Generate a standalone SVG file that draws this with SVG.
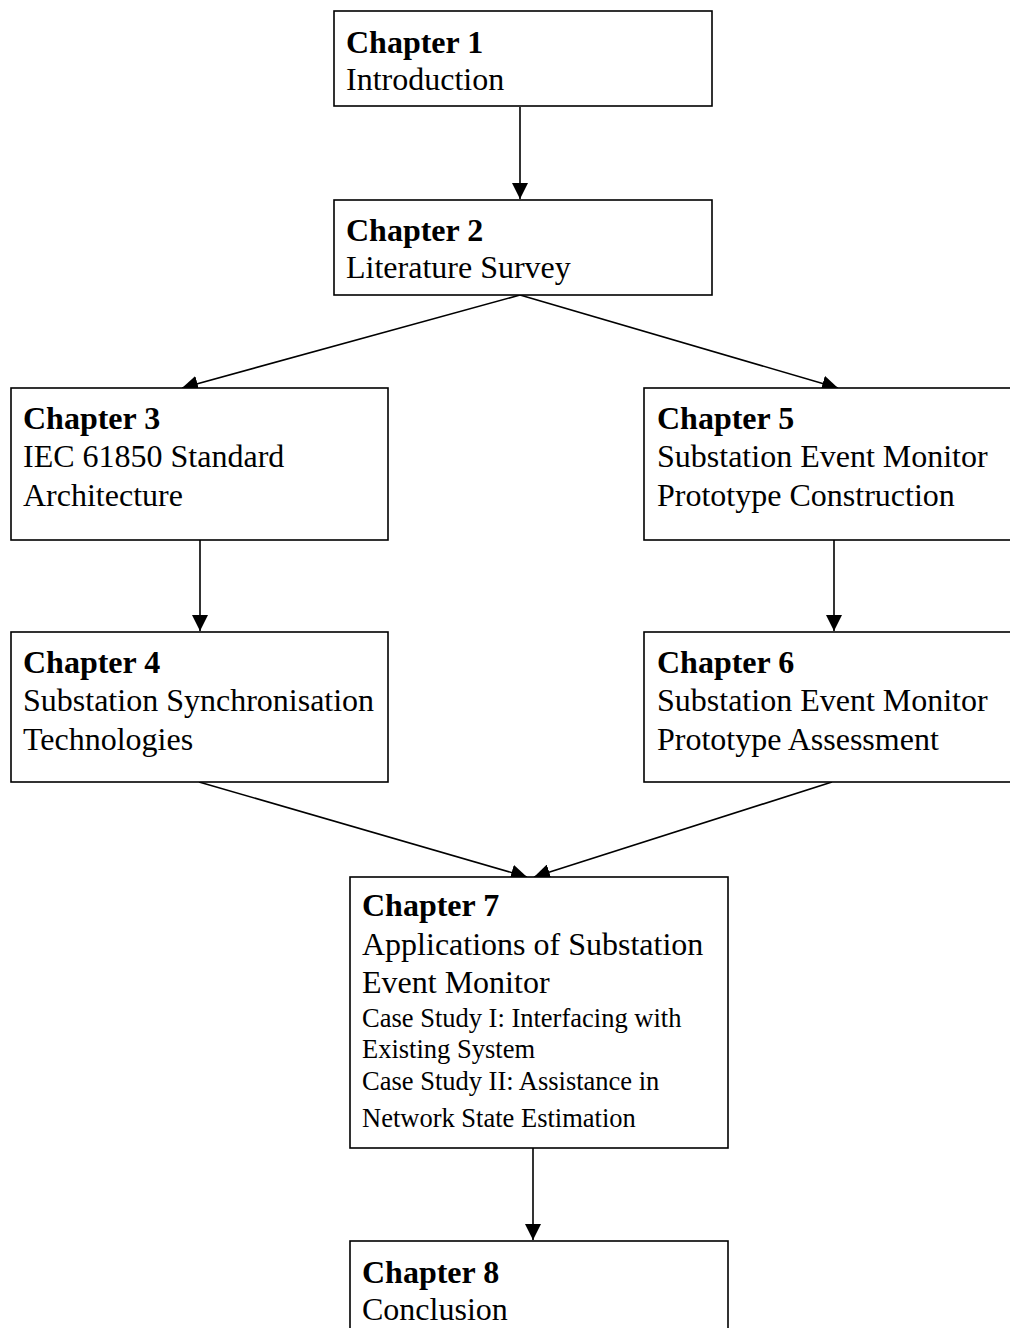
<svg xmlns="http://www.w3.org/2000/svg" width="1010" height="1328" viewBox="0 0 1010 1328">
  <style>
    .box { fill: #ffffff; stroke: #000000; stroke-width: 1.6; }
    .t { font-family: "Liberation Serif", "Times New Roman", serif; font-size: 32px; fill: #000000; }
    .h { font-weight: bold; }
    .s { font-size: 26.5px; }
    .edge { fill: none; stroke: #000000; stroke-width: 1.6; marker-end: url(#arrow); }
  </style>
  <defs>
    <marker id="arrow" markerUnits="userSpaceOnUse" markerWidth="17" markerHeight="16" refX="16" refY="8" orient="auto">
      <path d="M0,0 L16,8 L0,16 Z" fill="#000000"/>
    </marker>
  </defs>
  <rect width="1010" height="1328" fill="#ffffff"/>

  <g id="connectors">
    <line class="edge" x1="520" y1="107" x2="520" y2="199"/>
    <line class="edge" x1="520" y1="295" x2="182" y2="388"/>
    <line class="edge" x1="520" y1="295" x2="838" y2="388"/>
    <line class="edge" x1="200" y1="540" x2="200" y2="631"/>
    <line class="edge" x1="834" y1="540" x2="834" y2="631"/>
    <line class="edge" x1="199" y1="782" x2="527" y2="877"/>
    <line class="edge" x1="832" y1="782" x2="534" y2="877"/>
    <line class="edge" x1="533" y1="1148" x2="533" y2="1240"/>
  </g>

  <g id="chapter1">
    <rect class="box" x="334" y="11" width="378" height="95"/>
    <text class="t h" x="346" y="53">Chapter 1</text>
    <text class="t" x="346" y="90">Introduction</text>
  </g>

  <g id="chapter2">
    <rect class="box" x="334" y="200" width="378" height="95"/>
    <text class="t h" x="346" y="241">Chapter 2</text>
    <text class="t" x="346" y="278">Literature Survey</text>
  </g>

  <g id="chapter3">
    <rect class="box" x="11" y="388" width="377" height="152"/>
    <text class="t h" x="23" y="429">Chapter 3</text>
    <text class="t" x="23" y="467">IEC 61850 Standard</text>
    <text class="t" x="23" y="506">Architecture</text>
  </g>

  <g id="chapter4">
    <rect class="box" x="11" y="632" width="377" height="150"/>
    <text class="t h" x="23" y="673">Chapter 4</text>
    <text class="t" x="23" y="711">Substation Synchronisation</text>
    <text class="t" x="23" y="750">Technologies</text>
  </g>

  <g id="chapter5">
    <rect class="box" x="644" y="388" width="380" height="152"/>
    <text class="t h" x="657" y="429">Chapter 5</text>
    <text class="t" x="657" y="467">Substation Event Monitor</text>
    <text class="t" x="657" y="506">Prototype Construction</text>
  </g>

  <g id="chapter6">
    <rect class="box" x="644" y="632" width="380" height="150"/>
    <text class="t h" x="657" y="673">Chapter 6</text>
    <text class="t" x="657" y="711">Substation Event Monitor</text>
    <text class="t" x="657" y="750">Prototype Assessment</text>
  </g>

  <g id="chapter7">
    <rect class="box" x="350" y="877" width="378" height="271"/>
    <text class="t h" x="362" y="916">Chapter 7</text>
    <text class="t" x="362" y="955">Applications of Substation</text>
    <text class="t" x="362" y="993">Event Monitor</text>
    <text class="t s" x="362" y="1027">Case Study I: Interfacing with</text>
    <text class="t s" x="362" y="1058">Existing System</text>
    <text class="t s" x="362" y="1090">Case Study II: Assistance in</text>
    <text class="t s" x="362" y="1127">Network State Estimation</text>
  </g>

  <g id="chapter8">
    <rect class="box" x="350" y="1241" width="378" height="100"/>
    <text class="t h" x="362" y="1283">Chapter 8</text>
    <text class="t" x="362" y="1320">Conclusion</text>
  </g>
</svg>
